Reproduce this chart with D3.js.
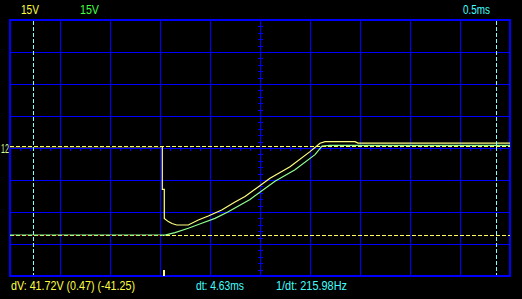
<!DOCTYPE html>
<html>
<head>
<meta charset="utf-8">
<script src="https://cdn.jsdelivr.net/npm/d3@7"></script>
<style>
body { margin: 0; background: #000; }
svg { display: block; }
text { font-family: "Liberation Sans", Arial, sans-serif; }
</style>
</head>
<body>
<div id="chart"></div>
<script>
// scope settings
var ch1Scale = "15V", ch2Scale = "15V", timeScale = "0.5ms";
var voltsPerDiv = 15, msPerDiv = 0.5, xDivs = 10, yDivs = 8;

// channel 1 (yellow) - time in ms, volts
var ch1Time  = [0, 1.52, 1.523, 1.523, 1.543, 1.543, 1.583, 1.62, 1.667, 1.783, 1.883, 1.983, 2.117, 2.25, 2.35, 2.6, 2.8, 3.0, 3.1, 3.15, 3.45, 3.48, 5.0];
var ch1Volts = [0.5, 0.5, 0.5, -19.4, -19.4, -33.0, -34.5, -35.4, -36.1, -36.1, -33.75, -31.9, -29.1, -25.3, -22.7, -14.2, -8.8, -1.7, 2.2, 3.0, 3.0, 2.3, 2.3];

// channel 2 (green)
var ch2Time  = [0, 1.55, 1.65, 1.783, 1.917, 2.05, 2.183, 2.4, 2.65, 2.85, 3.05, 3.12, 3.2, 5.0];
var ch2Volts = [-40.8, -40.8, -39.7, -37.6, -35.3, -33.0, -29.9, -24.1, -15.6, -10.2, -3.1, 0.9, 1.2, 1.2];

// cursors
var cursorTimes = [0.23, 4.86];
var cursorVolts = [0.47, -41.25];
var triggerTime = 1.53;

// readouts
var dvText = "dV: 41.72V  (0.47) (-41.25)";
var dtText = "dt: 4.63ms";
var freqText = "1/dt: 215.98Hz";

var width = 522, height = 299;
var plotLeft = 10, plotTop = 20, plotW = 500, plotH = 256;

var x = d3.scaleLinear().domain([0, xDivs * msPerDiv]).range([plotLeft, plotLeft + plotW]);
var y = d3.scaleLinear().domain([-yDivs / 2 * voltsPerDiv, yDivs / 2 * voltsPerDiv]).range([plotTop + plotH, plotTop]);

var svg = d3.select("#chart").append("svg")
    .attr("width", width)
    .attr("height", height)
    .style("background", "#000");

var blue = "#0000ff";

// grid
var grid = svg.append("g").attr("shape-rendering", "crispEdges");
grid.selectAll("line.vx")
    .data(d3.range(1, xDivs))
    .enter().append("line")
    .attr("x1", function(d) { return x(d * msPerDiv) + 0.5; })
    .attr("x2", function(d) { return x(d * msPerDiv) + 0.5; })
    .attr("y1", plotTop).attr("y2", plotTop + plotH)
    .attr("stroke", blue);
grid.selectAll("line.hy")
    .data(d3.range(1, yDivs))
    .enter().append("line")
    .attr("y1", function(d) { return y((d - yDivs / 2) * voltsPerDiv) + 0.5; })
    .attr("y2", function(d) { return y((d - yDivs / 2) * voltsPerDiv) + 0.5; })
    .attr("x1", plotLeft).attr("x2", plotLeft + plotW)
    .attr("stroke", blue);

// minor ticks on the centre lines
var cx = x(xDivs / 2 * msPerDiv), cy = y(0);
grid.selectAll("line.tx")
    .data(d3.range(0, xDivs * 5 + 1))
    .enter().append("line")
    .attr("x1", function(d) { return x(d * msPerDiv / 5) + 0.5; })
    .attr("x2", function(d) { return x(d * msPerDiv / 5) + 0.5; })
    .attr("y1", cy - 2).attr("y2", cy + 3)
    .attr("stroke", blue);
grid.selectAll("line.ty")
    .data(d3.range(0, yDivs * 5 + 1))
    .enter().append("line")
    .attr("y1", function(d) { return Math.round(y(d * voltsPerDiv / 5 - yDivs / 2 * voltsPerDiv)) + 0.5; })
    .attr("y2", function(d) { return Math.round(y(d * voltsPerDiv / 5 - yDivs / 2 * voltsPerDiv)) + 0.5; })
    .attr("x1", cx - 2).attr("x2", cx + 3)
    .attr("stroke", blue);

// border
svg.append("rect")
    .attr("x", plotLeft).attr("y", plotTop)
    .attr("width", plotW).attr("height", plotH)
    .attr("fill", "none")
    .attr("stroke", blue)
    .attr("stroke-width", 2)
    .attr("shape-rendering", "crispEdges");

var line = d3.line()
    .x(function(d) { return x(d[0]); })
    .y(function(d) { return y(d[1]); });

// clip regions left / right of trigger
var defs = svg.append("defs");
defs.append("clipPath").attr("id", "preTrig").append("rect")
    .attr("x", plotLeft).attr("y", 0).attr("width", x(triggerTime) - plotLeft - 1).attr("height", height);
defs.append("clipPath").attr("id", "postTrig").append("rect")
    .attr("x", x(triggerTime)).attr("y", 0).attr("width", plotLeft + plotW - x(triggerTime)).attr("height", height);

// ch2 trace
svg.append("path")
    .datum(d3.zip(ch2Time, ch2Volts))
    .attr("d", line)
    .attr("fill", "none")
    .attr("stroke", "#90ff90")
    .attr("stroke-width", 1.2);

// ch1 trace
svg.append("path")
    .datum(d3.zip(ch1Time, ch1Volts))
    .attr("d", line)
    .attr("fill", "none")
    .attr("stroke", "#ffff80")
    .attr("stroke-width", 1.2);

// horizontal cursors
cursorVolts.forEach(function(v, i) {
    var yy = Math.round(y(v)) - 0.5;
    if (i == 1) {
        // flat ch2 trace under the cursor shows through in red / green
        svg.append("line")
            .attr("x1", plotLeft).attr("x2", plotLeft + plotW)
            .attr("y1", yy).attr("y2", yy)
            .attr("stroke", "#900000")
            .attr("clip-path", "url(#preTrig)");
        svg.append("line")
            .attr("x1", plotLeft).attr("x2", plotLeft + plotW)
            .attr("y1", yy).attr("y2", yy)
            .attr("stroke", "#a0ff80")
            .attr("stroke-dasharray", "4,2")
            .attr("clip-path", "url(#preTrig)");
        svg.append("line")
            .attr("x1", plotLeft).attr("x2", plotLeft + plotW)
            .attr("y1", yy).attr("y2", yy)
            .attr("stroke", "#ffff60")
            .attr("stroke-dasharray", "4,2")
            .attr("clip-path", "url(#postTrig)");
    } else {
        // flat ch1 trace is hidden by the cursor before the trigger
        svg.append("line")
            .attr("x1", plotLeft).attr("x2", plotLeft + plotW)
            .attr("y1", yy).attr("y2", yy)
            .attr("stroke", "#000")
            .attr("stroke-width", 2)
            .attr("clip-path", "url(#preTrig)");
        svg.append("line")
            .attr("x1", plotLeft).attr("x2", plotLeft + plotW)
            .attr("y1", yy).attr("y2", yy)
            .attr("stroke", "#ffff60")
            .attr("stroke-dasharray", "4,2");
    }
});

// vertical cursors
svg.selectAll("line.vc")
    .data(cursorTimes)
    .enter().append("line")
    .attr("x1", function(d) { return Math.round(x(d)) + 0.5; })
    .attr("x2", function(d) { return Math.round(x(d)) + 0.5; })
    .attr("y1", plotTop + 1).attr("y2", plotTop + plotH - 1)
    .attr("stroke", "#80ffff")
    .attr("stroke-dasharray", "4,2");

// trigger marker
svg.append("rect")
    .attr("x", Math.round(x(triggerTime)))
    .attr("y", plotTop + plotH - 6)
    .attr("width", 2).attr("height", 6)
    .attr("fill", "#ffff80");

// ground marker
svg.append("text")
    .attr("x", 1).attr("y", y(0) + 4.5)
    .attr("font-size", 12)
    .attr("fill", "#d8ff90")
    .attr("textLength", 8).attr("lengthAdjust", "spacingAndGlyphs")
    .text("12");

// labels
var labels = [
    {t: ch1Scale, x: 21, y: 14, w: 18, c: "#ffff40"},
    {t: ch2Scale, x: 80, y: 14, w: 19, c: "#40ff40"},
    {t: timeScale, x: 463, y: 14, w: 27, c: "#40ffff"},
    {t: dvText, x: 11, y: 290, w: 124, c: "#ffff40"},
    {t: dtText, x: 196, y: 290, w: 48, c: "#40ffff"},
    {t: freqText, x: 276, y: 290, w: 71, c: "#40ffff"}
];
svg.selectAll("text.lbl")
    .data(labels)
    .enter().append("text")
    .attr("class", "lbl")
    .attr("x", function(d) { return d.x; })
    .attr("y", function(d) { return d.y; })
    .attr("font-size", 13)
    .attr("fill", function(d) { return d.c; })
    .attr("textLength", function(d) { return d.w; })
    .attr("lengthAdjust", "spacingAndGlyphs")
    .text(function(d) { return d.t; });
</script>
</body>
</html>
